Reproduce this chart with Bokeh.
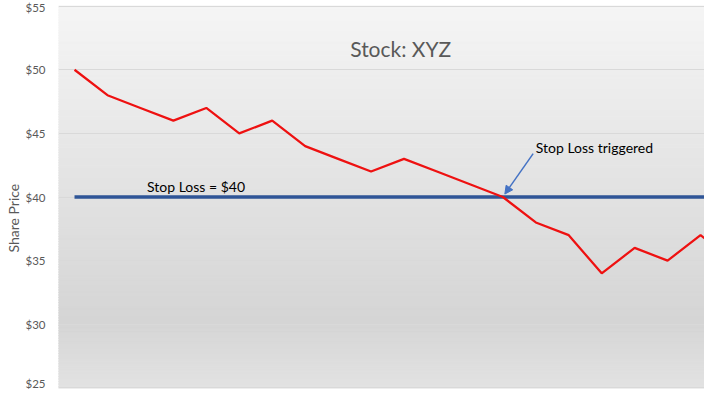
import numpy as np
from bokeh.plotting import figure
from bokeh.models import (Range1d, FixedTicker, PrintfTickFormatter, Label, Title,
                          Arrow, NormalHead, ColumnDataSource)
from bokeh.embed import file_html
from bokeh.resources import INLINE

# ---- data ----
days = list(range(21))
prices = [50, 48, 47, 46, 47, 45, 46, 44, 43, 42, 43, 42, 41, 40, 38, 37, 34, 36, 35, 37, 35]
stop_level = 40
stop_line = [stop_level] * len(days)
y_ticks = [25, 30, 35, 40, 45, 50, 55]
title_text = "Stock: XYZ"
y_label = "Share Price"
stop_label = "Stop Loss = $40"
trigger_label = "Stop Loss triggered"
trigger_day = 13

FONT = "Lato"
GRAY = "#595959"

p = figure(width=704, height=389, output_backend="svg", toolbar_location=None,
           x_range=Range1d(-0.486, 19.12), y_range=Range1d(24.95, 55.05),
           min_border_left=58, min_border_right=0, min_border_top=5, min_border_bottom=1)

p.background_fill_color = "white"
p.border_fill_color = "white"
p.outline_line_color = None

# gradient background (decoration)
step = 0.2
ys = np.arange(24.9, 55.1, step)
def shade(y):
    if y >= 30.4:
        t = (55 - y) / (55 - 30.4)
        v = 245 + (213 - 245) * t
    else:
        t = (30.4 - y) / (30.4 - 25)
        v = 213 + (226 - 213) * t
    v = int(round(v))
    return "#%02x%02x%02x" % (v, v, v)
cols = [shade(y + step / 2) for y in ys]
p.quad(left=-2, right=22, bottom=ys, top=ys + step, fill_color=cols,
       line_color=cols, line_width=1, level="image")

# axes
p.xaxis.visible = False
p.xgrid.visible = False
p.ygrid.grid_line_color = "#d9d9d9"
p.ygrid.grid_line_width = 1
ax = p.yaxis[0]
ax.ticker = FixedTicker(ticks=y_ticks)
ax.formatter = PrintfTickFormatter(format="$%d")
ax.axis_line_color = None
ax.major_tick_line_color = None
ax.minor_tick_line_color = None
ax.major_tick_out = 0
ax.major_tick_in = 0
ax.minor_tick_out = 0
ax.major_label_standoff = 13
ax.major_label_text_font = FONT
ax.major_label_text_font_size = "11.5px"
ax.major_label_text_color = GRAY

# y-axis title as a side-panel title
p.add_layout(Title(text=y_label, align="left", offset=136, standoff=2, text_font=FONT,
                   text_font_size="14px", text_font_style="normal",
                   text_color=GRAY), "left")

src = ColumnDataSource(dict(day=days, price=prices, stop=stop_line))
p.line("day", "stop", source=src, line_color="#2f5597", line_width=3.5)
p.line("day", "price", source=src, line_color="#ee1111", line_width=2.25)

p.add_layout(Label(x=9.9, y=51.7, text=title_text, text_align="center",
                   text_baseline="middle", text_font=FONT,
                   text_font_size="21px", text_color=GRAY))
p.add_layout(Label(x=2.2, y=stop_level + 0.12, text=stop_label, text_align="left",
                   text_baseline="bottom", text_font=FONT,
                   text_font_size="14px", text_color="black"))
p.add_layout(Label(x=trigger_day + 1.0, y=stop_level + 3.2, text=trigger_label,
                   text_align="left", text_baseline="bottom", text_font=FONT,
                   text_font_size="14px", text_color="black"))
p.add_layout(Arrow(end=NormalHead(size=8, fill_color="#4472c4", line_color="#4472c4"),
                   x_start=trigger_day + 0.92, y_start=stop_level + 3.41,
                   x_end=trigger_day + 0.06, y_end=stop_level + 0.23,
                   line_color="#4472c4", line_width=1.5))

open("out.html", "w").write(file_html(p, INLINE))
